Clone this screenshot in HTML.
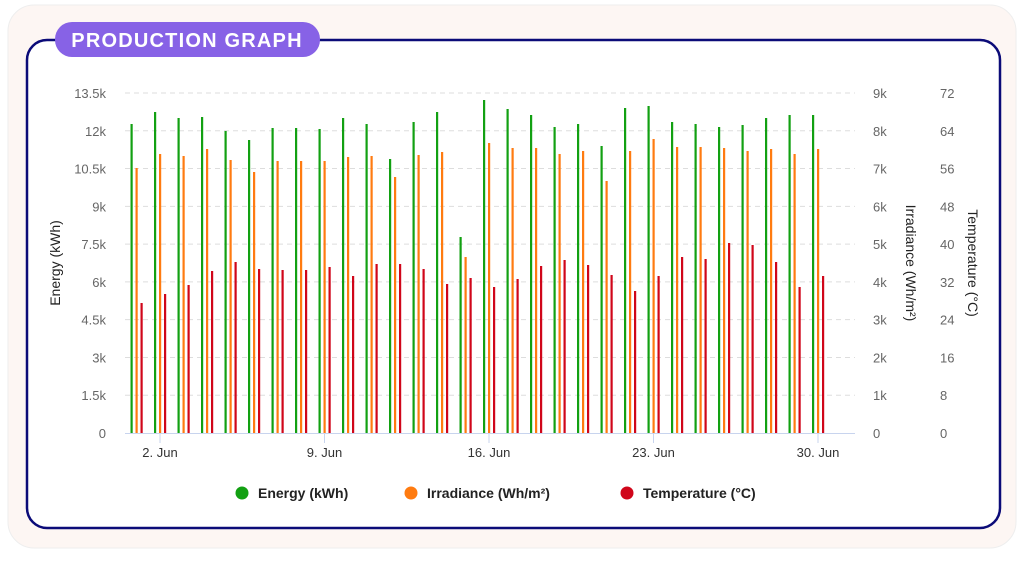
<!DOCTYPE html>
<html><head><meta charset="utf-8"><style>
body{margin:0;width:1024px;height:556px;background:#fff;font-family:"Liberation Sans",sans-serif;overflow:hidden}
</style></head><body>
<svg id="s" width="1024" height="556" xmlns="http://www.w3.org/2000/svg" font-family="Liberation Sans, sans-serif">
<rect x="8" y="5" width="1008" height="543" rx="26" fill="#fdf6f3" stroke="#eee" stroke-width="1"/>
<rect x="27" y="40" width="973" height="488" rx="20" fill="#fff" stroke="#0b0b78" stroke-width="2.5"/>
<rect x="55" y="22" width="265" height="35" rx="17" fill="#8762e6"/>
<text x="187" y="47" text-anchor="middle" fill="#fff" font-size="20" font-weight="bold" letter-spacing="1.2">PRODUCTION GRAPH</text>
<g id="grid" stroke="#ddd" stroke-dasharray="5,4" stroke-width="1"></g>
<line x1="125" y1="433.5" x2="855" y2="433.5" stroke="#c8d4ee" stroke-width="1"/>
<g id="bars"></g>
<g id="labels" font-size="13" fill="#666"></g>
<text transform="translate(60,263) rotate(-90)" text-anchor="middle" font-size="14" fill="#222">Energy (kWh)</text>
<text transform="translate(906,263) rotate(90)" text-anchor="middle" font-size="14" fill="#222">Irradiance (Wh/m²)</text>
<text transform="translate(968,263) rotate(90)" text-anchor="middle" font-size="14" fill="#222">Temperature (°C)</text>
<g font-size="14" font-weight="bold" fill="#222">
<circle cx="242" cy="493" r="6.5" fill="#12a012"/><text x="258" y="498">Energy (kWh)</text>
<circle cx="411" cy="493" r="6.5" fill="#ff7b10"/><text x="427" y="498">Irradiance (Wh/m²)</text>
<circle cx="627" cy="493" r="6.5" fill="#d0061a"/><text x="643" y="498">Temperature (°C)</text>
</g>
</svg>
<script>
var ns="http://www.w3.org/2000/svg";
function el(p,t,a,txt){var e=document.createElementNS(ns,t);for(var k in a)e.setAttribute(k,a[k]);if(txt!=null)e.textContent=txt;document.getElementById(p).appendChild(e);}
var L=["0","1.5k","3k","4.5k","6k","7.5k","9k","10.5k","12k","13.5k"],R1=["0","1k","2k","3k","4k","5k","6k","7k","8k","9k"],R2=["0","8","16","24","32","40","48","56","64","72"];
for(var i=0;i<10;i++){var y=433-i*37.78;
 if(i>0)el("grid","line",{x1:125,x2:855,y1:y,y2:y});
 el("labels","text",{x:106,y:y+5,"text-anchor":"end"},L[i]);
 el("labels","text",{x:873,y:y+5},R1[i]);
 el("labels","text",{x:940,y:y+5},R2[i]);}
var d=[[124,168,303],[112,154,294],[118,156,285],[117,149,271],[131,160,262],[140,172,269],[128,161,270],[128,161,270],[129,161,267],[118,157,276],[124,156,264],[159,177,264],[122,155,269],[112,152,284],[237,257,278],[100,143,287],[109,148,279],[115,148,266],[127,154,260],[124,151,265],[146,181,275],[108,151,291],[106,139,276],[122,147,257],[124,147,259],[127,148,243],[125,151,245],[118,149,262],[115,154,287],[115,149,276]];
var c=["#12a012","#ff7b10","#d0061a"];
for(var j=0;j<30;j++){var cx=137.5+j*23.5;
 for(var k=0;k<3;k++)el("bars","rect",{x:cx-6+k*5-1,y:d[j][k],width:2.2,height:433-d[j][k],fill:c[k]});}
[[2,"2. Jun"],[9,"9. Jun"],[16,"16. Jun"],[23,"23. Jun"],[30,"30. Jun"]].forEach(function(t){var x=136.5+(t[0]-1)*23.5;
 el("labels","line",{x1:x,x2:x,y1:433,y2:443,stroke:"#c8d4ee"});
 el("labels","text",{x:x,y:457,"text-anchor":"middle",fill:"#333"},t[1]);});
</script>
</body></html>
